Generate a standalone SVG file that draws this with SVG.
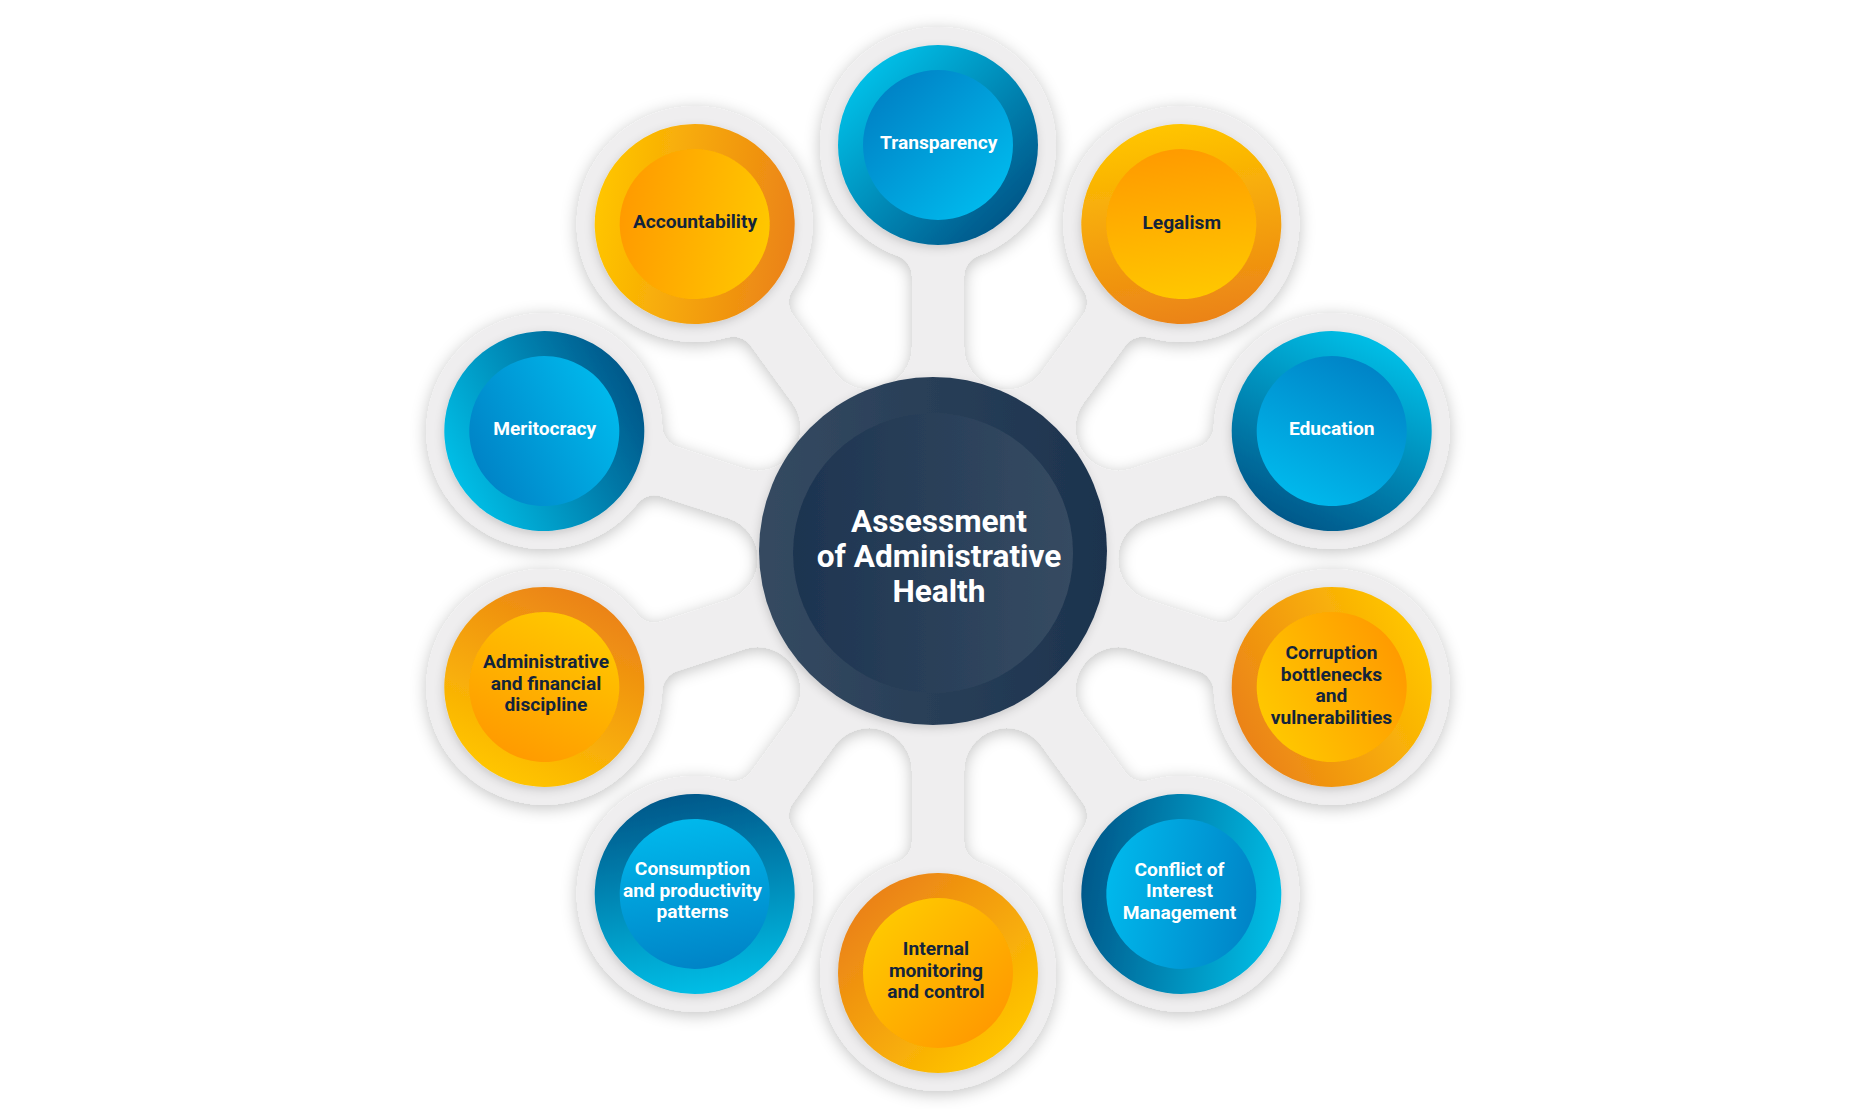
<svg xmlns="http://www.w3.org/2000/svg" width="1876" height="1109" viewBox="0 0 1876 1109">
<defs>
<style>
.lbl{font-family:Roboto,"Liberation Sans",sans-serif;font-weight:700;font-size:19.2px;text-anchor:middle}
.dk{fill:#13243B}
.lt{fill:#FFFFFF}
.ctr{font-family:Roboto,"Liberation Sans",sans-serif;font-weight:700;font-size:31.6px;text-anchor:middle;fill:#FFFFFF}
</style>
<linearGradient id="bo" gradientUnits="userSpaceOnUse" x1="100" y1="0" x2="-100" y2="0">
<stop offset="0" stop-color="#00BEE6"/><stop offset="1" stop-color="#00588A"/>
</linearGradient>
<linearGradient id="bi" gradientUnits="userSpaceOnUse" x1="75" y1="0" x2="-75" y2="0">
<stop offset="0" stop-color="#0084C7"/><stop offset="1" stop-color="#00B8EC"/>
</linearGradient>
<linearGradient id="oo" gradientUnits="userSpaceOnUse" x1="100" y1="0" x2="-100" y2="0">
<stop offset="0" stop-color="#FFC500"/><stop offset="1" stop-color="#EB8316"/>
</linearGradient>
<linearGradient id="oi" gradientUnits="userSpaceOnUse" x1="75" y1="0" x2="-75" y2="0">
<stop offset="0" stop-color="#FF9B00"/><stop offset="1" stop-color="#FFC700"/>
</linearGradient>
<linearGradient id="co" gradientUnits="userSpaceOnUse" x1="759" y1="0" x2="1107" y2="0">
<stop offset="0" stop-color="#354A61"/><stop offset="1" stop-color="#1C334E"/>
</linearGradient>
<linearGradient id="ci" gradientUnits="userSpaceOnUse" x1="793" y1="0" x2="1073" y2="0">
<stop offset="0" stop-color="#1D3450"/><stop offset="1" stop-color="#364B62"/>
</linearGradient>
<filter id="blobShadow" x="-10%" y="-10%" width="120%" height="120%">
<feGaussianBlur in="SourceAlpha" stdDeviation="8"/>
<feOffset dx="0" dy="3" result="b"/>
<feFlood flood-color="#000000" flood-opacity="0.24"/>
<feComposite in2="b" operator="in"/>
<feMerge><feMergeNode/><feMergeNode in="SourceGraphic"/></feMerge>
</filter>
<filter id="cs" x="-20%" y="-20%" width="140%" height="140%">
<feGaussianBlur in="SourceAlpha" stdDeviation="5"/>
<feOffset dx="-1" dy="3" result="b"/>
<feFlood flood-color="#000000" flood-opacity="0.16"/>
<feComposite in2="b" operator="in"/>
<feMerge><feMergeNode/><feMergeNode in="SourceGraphic"/></feMerge>
</filter>
<path id="wedge" d="M0 0 L171.19 55.62 A42.87 42.87 0 0 1 211.96 26 L282.49 26 A22 22 0 0 1 303.15 40.46 A118 118 0 1 0 303.15 -40.46 A22 22 0 0 1 282.49 -26 L211.96 -26 A42.87 42.87 0 0 1 171.19 -55.62 Z"/>
</defs>

<rect x="0" y="0" width="1876" height="1109" fill="#FFFFFF"/>

<g id="connectors" fill="#EFEEEF" filter="url(#blobShadow)">
<circle cx="938" cy="559" r="179"/>
<use href="#wedge" transform="translate(938 559) rotate(-90)"/>
<use href="#wedge" transform="translate(938 559) rotate(-54)"/>
<use href="#wedge" transform="translate(938 559) rotate(-18)"/>
<use href="#wedge" transform="translate(938 559) rotate(18)"/>
<use href="#wedge" transform="translate(938 559) rotate(54)"/>
<use href="#wedge" transform="translate(938 559) rotate(90)"/>
<use href="#wedge" transform="translate(938 559) rotate(126)"/>
<use href="#wedge" transform="translate(938 559) rotate(162)"/>
<use href="#wedge" transform="translate(938 559) rotate(198)"/>
<use href="#wedge" transform="translate(938 559) rotate(234)"/>
</g>

<g id="center">
<g filter="url(#cs)">
<circle cx="933" cy="551" r="174" fill="url(#co)"/>
<circle cx="933" cy="553" r="140" fill="url(#ci)"/>
</g>
<text class="ctr" x="939" y="531.7">Assessment</text>
<text class="ctr" x="939" y="566.7">of Administrative</text>
<text class="ctr" x="939" y="601.7">Health</text>
</g>

<g id="node-transparency">
<g filter="url(#cs)"><g transform="translate(938 145) rotate(-135)"><circle r="100" fill="url(#bo)"/><circle r="75" fill="url(#bi)"/></g></g>
<text class="lbl lt" x="938.7" y="149.3">Transparency</text>
</g>

<g id="node-legalism">
<g filter="url(#cs)"><g transform="translate(1181.3 224.1) rotate(-99)"><circle r="100" fill="url(#oo)"/><circle r="75" fill="url(#oi)"/></g></g>
<text class="lbl dk" x="1181.7" y="228.5">Legalism</text>
</g>

<g id="node-education">
<g filter="url(#cs)"><g transform="translate(1331.7 431.1) rotate(-63)"><circle r="100" fill="url(#bo)"/><circle r="75" fill="url(#bi)"/></g></g>
<text class="lbl lt" x="1331.7" y="435.2">Education</text>
</g>

<g id="node-corruption">
<g filter="url(#cs)"><g transform="translate(1331.7 686.9) rotate(-27)"><circle r="100" fill="url(#oo)"/><circle r="75" fill="url(#oi)"/></g></g>
<text class="lbl dk" x="1331.5" y="659">Corruption</text>
<text class="lbl dk" x="1331.5" y="680.5">bottlenecks</text>
<text class="lbl dk" x="1331.5" y="702">and</text>
<text class="lbl dk" x="1331.5" y="723.5">vulnerabilities</text>
</g>

<g id="node-conflict">
<g filter="url(#cs)"><g transform="translate(1181.3 893.9) rotate(9)"><circle r="100" fill="url(#bo)"/><circle r="75" fill="url(#bi)"/></g></g>
<text class="lbl lt" x="1179.5" y="875.7">Conflict of</text>
<text class="lbl lt" x="1179.5" y="897.2">Interest</text>
<text class="lbl lt" x="1179.5" y="918.7">Management</text>
</g>

<g id="node-internal">
<g filter="url(#cs)"><g transform="translate(938 973) rotate(45)"><circle r="100" fill="url(#oo)"/><circle r="75" fill="url(#oi)"/></g></g>
<text class="lbl dk" x="936" y="955">Internal</text>
<text class="lbl dk" x="936" y="976.5">monitoring</text>
<text class="lbl dk" x="936" y="998">and control</text>
</g>

<g id="node-consumption">
<g filter="url(#cs)"><g transform="translate(694.7 893.9) rotate(81)"><circle r="100" fill="url(#bo)"/><circle r="75" fill="url(#bi)"/></g></g>
<text class="lbl lt" x="692.5" y="875.2">Consumption</text>
<text class="lbl lt" x="692.5" y="896.7">and productivity</text>
<text class="lbl lt" x="692.5" y="918.2">patterns</text>
</g>

<g id="node-admin">
<g filter="url(#cs)"><g transform="translate(544.3 686.9) rotate(117)"><circle r="100" fill="url(#oo)"/><circle r="75" fill="url(#oi)"/></g></g>
<text class="lbl dk" x="546" y="668">Administrative</text>
<text class="lbl dk" x="546" y="689.5">and financial</text>
<text class="lbl dk" x="546" y="711">discipline</text>
</g>

<g id="node-meritocracy">
<g filter="url(#cs)"><g transform="translate(544.3 431.1) rotate(153)"><circle r="100" fill="url(#bo)"/><circle r="75" fill="url(#bi)"/></g></g>
<text class="lbl lt" x="544.7" y="435.2">Meritocracy</text>
</g>

<g id="node-accountability">
<g filter="url(#cs)"><g transform="translate(694.7 224.1) rotate(189)"><circle r="100" fill="url(#oo)"/><circle r="75" fill="url(#oi)"/></g></g>
<text class="lbl dk" x="695" y="228">Accountability</text>
</g>
</svg>
